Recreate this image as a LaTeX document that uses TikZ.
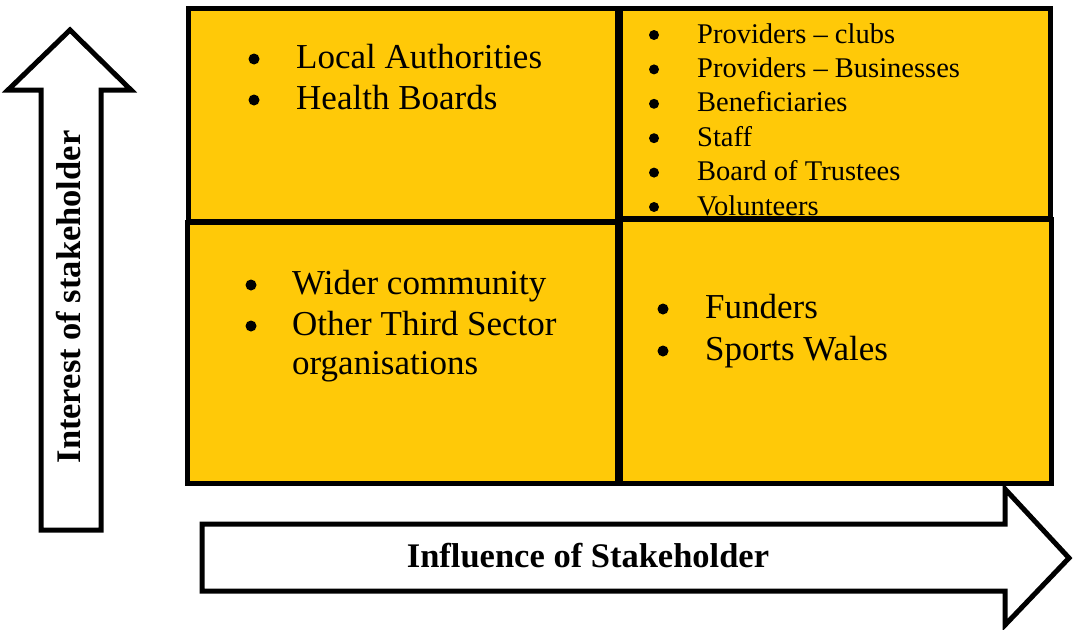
\documentclass[tikz,border=0pt]{standalone}
\usepackage{fontspec}
\setmainfont{Liberation Serif}
\usepackage{xcolor}
\usetikzlibrary{positioning}

\definecolor{stakegold}{RGB}{255,201,8}

\tikzset{
  quad/.style={draw=black, line width=5pt, fill=stakegold},
  bigarrow/.style={draw=black, line width=5pt, fill=white},
  dot/.style={circle, fill=black, inner sep=0pt, minimum size=#1},
  listtext/.style={anchor=base west, inner sep=0pt, font=\fontsize{#1}{#1}\selectfont},
  axislabel/.style={inner sep=0pt, font=\fontsize{34.5}{34.5}\selectfont\bfseries},
}

\begin{document}
\begin{tikzpicture}[x=1pt, y=-1pt]
  \useasboundingbox (0,0) rectangle (1075,629);

  % the four quadrants
  \draw[quad] (188,8) rectangle (617,221);
  \draw[quad] (620,8) rectangle (1050,218);
  \draw[quad] (187,222) rectangle (617,483);
  \draw[quad] (620,219) rectangle (1051,483);

  % axis arrows
  \draw[bigarrow] (41,530) -- (41,90) -- (8,90) -- (70,30) -- (131,90)
    -- (101,90) -- (101,530) -- cycle;
  \draw[bigarrow] (202,524) -- (1005,524) -- (1005,489) -- (1069,558)
    -- (1005,625) -- (1005,591) -- (202,591) -- cycle;
  \node[axislabel, rotate=90, anchor=base] (interest) at (80,297) {Interest of stakeholder};
  \node[axislabel, anchor=base] (influence) at (588,567) {Influence of Stakeholder};

  % high interest, low influence
  \foreach \txt [count=\i] in {Local Authorities, Health Boards} {
    \node[dot=11] (tlb\i) at (254,{59+(\i-1)*41}) {};
    \node[listtext=35] (tl\i) at (296,{68+(\i-1)*41}) {\txt};
  }

  % high interest, high influence
  \foreach \txt [count=\i] in {Providers -- clubs, Providers -- Businesses,
      Beneficiaries, Staff, Board of Trustees, Volunteers} {
    \node[dot=10] (trb\i) at (654,{35+(\i-1)*34.4}) {};
    \node[listtext=28.5] (tr\i) at (697,{43+(\i-1)*34.4}) {\txt};
  }

  % low interest, low influence
  \foreach \txt [count=\i] in {Wider community, Other Third Sector} {
    \node[dot=11] (blb\i) at (251,{285+(\i-1)*41}) {};
    \node[listtext=35] (bl\i) at (292,{294+(\i-1)*41}) {\txt};
  }
  \node[listtext=35] (bl3) at (292,374) {organisations};

  % low interest, high influence
  \foreach \txt [count=\i] in {Funders, Sports Wales} {
    \node[dot=11] (brb\i) at (663,{309+(\i-1)*42}) {};
    \node[listtext=35] (br\i) at (705,{318+(\i-1)*42}) {\txt};
  }
\end{tikzpicture}
\end{document}
